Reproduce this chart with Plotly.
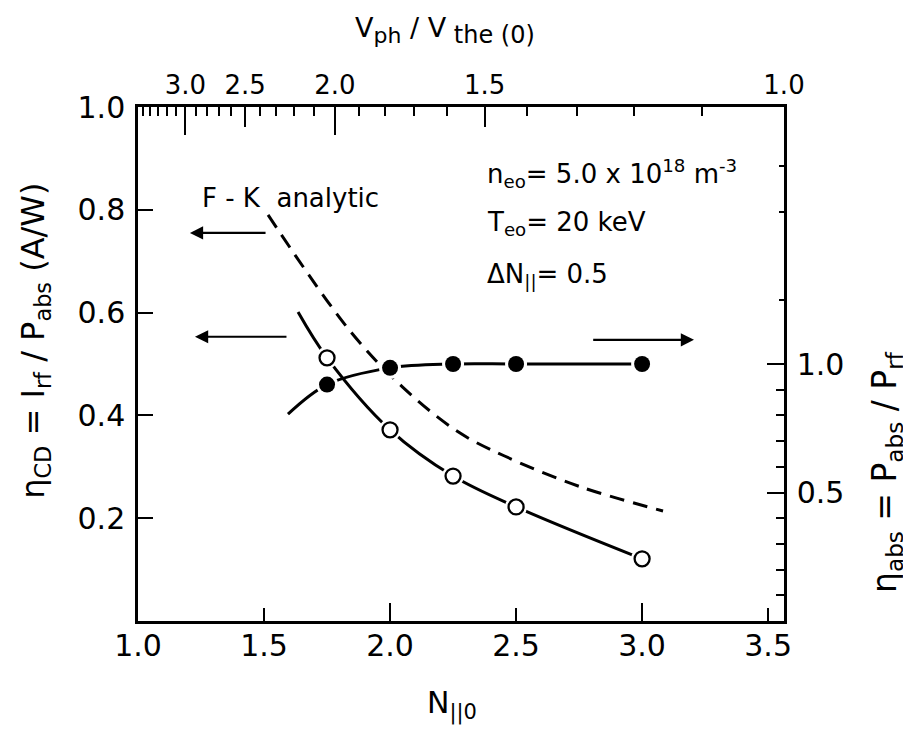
import plotly.graph_objects as go

# ---------------- data ----------------
# open circles: eta_CD (left axis)
cd_N = [1.75, 2.0, 2.25, 2.5, 3.0]
cd_eta = [0.512, 0.372, 0.282, 0.222, 0.121]
# solid curve through open circles
cd_curve_N = [1.635, 1.75, 2.0, 2.25, 2.5, 3.0]
cd_curve_eta = [0.601, 0.512, 0.372, 0.282, 0.222, 0.121]

# filled circles: eta_abs (right axis)
abs_N = [1.75, 2.0, 2.25, 2.5, 3.0]
abs_eta = [0.92, 0.985, 1.0, 1.0, 1.0]
abs_curve_N = [1.595, 1.75, 2.0, 2.25, 2.5, 3.0]
abs_curve_eta = [0.805, 0.92, 0.985, 1.0, 1.0, 1.0]

# F-K analytic (dashed, left axis)
fk_N = [1.516, 1.84, 2.05, 2.27, 2.45, 2.75, 3.083]
fk_eta = [0.790, 0.565, 0.455, 0.368, 0.322, 0.262, 0.214]

# axes
x_range = [1.0, 3.563]
c_over_vthe = 3.563            # V_ph/V_the(0) = c_over_vthe / N
bottom_long = [2.0, 3.0]
bottom_labels = [1.0, 1.5, 2.0, 2.5, 3.0, 3.5]
left_ticks = [0.2, 0.4, 0.6, 0.8, 1.0]
right_major = [0.5, 1.0]
right_minor = [0.1, 0.2, 0.3, 0.4, 0.6, 0.7, 0.8, 0.9]
right_marks = [1.25, 1.59, 1.77]
top_labels_v = [3.0, 2.5, 2.0, 1.5, 1.0]
top_long_v = [3.0, 2.0]
top_mid_v = [2.5, 1.5]
top_minor_v = [round(1.1 + 0.1 * i, 1) for i in range(25)]

FONT = "DejaVu Sans"
BLK = "black"

def fmt(v):
    return f"{v:.1f}"

fig = go.Figure()

# ---- lines ----
fig.add_trace(go.Scatter(x=fk_N, y=fk_eta, mode="lines",
                         line=dict(color=BLK, width=3, dash="15px,9px", shape="spline",
                                   smoothing=1.0),
                         xaxis="x", yaxis="y", showlegend=False))
fig.add_trace(go.Scatter(x=cd_curve_N, y=cd_curve_eta, mode="lines",
                         line=dict(color=BLK, width=3, shape="spline"),
                         xaxis="x", yaxis="y", showlegend=False))
fig.add_trace(go.Scatter(x=abs_curve_N, y=abs_curve_eta, mode="lines",
                         line=dict(color=BLK, width=3, shape="spline"),
                         xaxis="x", yaxis="y2", showlegend=False))

# ---- white halos (gaps around markers) ----
fig.add_trace(go.Scatter(x=cd_N, y=cd_eta, mode="markers",
                         marker=dict(color="white", size=22, line=dict(width=0)),
                         xaxis="x", yaxis="y", showlegend=False))
fig.add_trace(go.Scatter(x=abs_N, y=abs_eta, mode="markers",
                         marker=dict(color="white", size=22, line=dict(width=0)),
                         xaxis="x", yaxis="y2", showlegend=False))
# ---- markers ----
fig.add_trace(go.Scatter(x=cd_N, y=cd_eta, mode="markers",
                         marker=dict(color="white", size=15, line=dict(color=BLK, width=2.3)),
                         xaxis="x", yaxis="y", showlegend=False))
fig.add_trace(go.Scatter(x=abs_N, y=abs_eta, mode="markers",
                         marker=dict(color=BLK, size=16, line=dict(width=0)),
                         xaxis="x", yaxis="y2", showlegend=False))

# ---- axes ----
tickfont = dict(family=FONT, size=30, color=BLK)
noax = dict(showline=False, showgrid=False, zeroline=False, showticklabels=False)
fig.update_layout(
    width=911, height=729,
    margin=dict(l=130, r=135, t=99, b=116),
    paper_bgcolor="white", plot_bgcolor="white",
    font=dict(family=FONT, color=BLK),
    xaxis=dict(range=x_range, tickmode="array", tickvals=bottom_labels,
               ticktext=[fmt(v) for v in bottom_labels],
               ticks="inside", ticklen=13, tickwidth=2, tickcolor=BLK,
               showline=True, linewidth=2.5, linecolor=BLK,
               showgrid=False, zeroline=False, tickfont=tickfont,
               ticklabelstandoff=-4),
    xaxis5=dict(range=x_range, overlaying="x", side="bottom", anchor="y",
                tickmode="array", tickvals=bottom_long, ticks="inside", ticklen=18,
                tickwidth=2, tickcolor=BLK, **noax),
    yaxis=dict(range=[0, 1.0], tickmode="array", tickvals=left_ticks,
               ticktext=[fmt(v) for v in left_ticks],
               ticks="inside", ticklen=15, tickwidth=2, tickcolor=BLK,
               showline=True, linewidth=2.5, linecolor=BLK,
               showgrid=False, zeroline=False, tickfont=tickfont,
               ticklabelstandoff=4),
    yaxis2=dict(range=[0, 2.0], overlaying="y", side="right", anchor="x",
                tickmode="array", tickvals=right_major,
                ticktext=[fmt(v) for v in right_major],
                ticks="inside", ticklen=17, tickwidth=2, tickcolor=BLK,
                minor=dict(tickmode="array", tickvals=right_minor, ticks="inside",
                           ticklen=8, tickwidth=2, tickcolor=BLK),
                showline=True, linewidth=2.5, linecolor=BLK,
                showgrid=False, zeroline=False, tickfont=tickfont,
                ticklabelstandoff=4),
    yaxis3=dict(range=[0, 2.0], overlaying="y", side="right", anchor="x",
                tickmode="array", tickvals=right_marks, ticks="inside", ticklen=5,
                tickwidth=2, tickcolor=BLK, **noax),
    xaxis2=dict(range=x_range, overlaying="x", side="top", anchor="y",
                tickmode="array",
                tickvals=[c_over_vthe / v for v in top_labels_v],
                ticktext=[fmt(v) for v in top_labels_v],
                ticks="", tickcolor=BLK,
                minor=dict(tickmode="array",
                           tickvals=[c_over_vthe / v for v in top_minor_v],
                           ticks="inside", ticklen=9, tickwidth=2, tickcolor=BLK),
                showline=True, linewidth=2.5, linecolor=BLK,
                showgrid=False, zeroline=False,
                tickfont=dict(family=FONT, size=26, color=BLK),
                ticklabelstandoff=0),
    xaxis3=dict(range=x_range, overlaying="x", side="top", anchor="y",
                tickmode="array", tickvals=[c_over_vthe / v for v in top_long_v],
                ticks="inside", ticklen=28, tickwidth=2, tickcolor=BLK, **noax),
    xaxis4=dict(range=x_range, overlaying="x", side="top", anchor="y",
                tickmode="array", tickvals=[c_over_vthe / v for v in top_mid_v],
                ticks="inside", ticklen=20, tickwidth=2, tickcolor=BLK, **noax),
)
# dummy traces to activate the extra axes
for ax, ay in [("x2", "y"), ("x3", "y"), ("x4", "y"), ("x5", "y"), ("x", "y3")]:
    fig.add_trace(go.Scatter(x=[None], y=[None], xaxis=ax, yaxis=ay,
                             showlegend=False, hoverinfo="skip"))

# ---- axis titles ----
ann = []
ann.append(dict(text="N<sub>||0</sub>", xref="paper", yref="paper", x=0.486, y=0,
                yshift=-84, xanchor="center", yanchor="middle", showarrow=False,
                font=dict(family=FONT, size=30, color=BLK)))
ann.append(dict(text="V<sub><span style='font-size:22px'>ph</span></sub> / "
                     "V<sub><span style='font-size:24px'> the (0)</span></sub>",
                xref="paper", yref="paper",
                x=0.475, y=1, yshift=77, xanchor="center", yanchor="middle",
                showarrow=False, font=dict(family=FONT, size=27, color=BLK)))
ann.append(dict(text="η<sub>CD</sub> = I<sub>rf</sub> / P<sub>abs</sub> (A/W)",
                xref="paper", yref="paper", x=0, xshift=-103, y=0.545,
                xanchor="center", yanchor="middle",
                textangle=-90, showarrow=False, font=dict(family=FONT, size=32, color=BLK)))
ann.append(dict(text="η<sub>abs</sub> = P<sub>abs</sub> / P<sub>rf</sub>",
                xref="paper", yref="paper", x=1, xshift=103, y=0.29,
                xanchor="center", yanchor="middle",
                textangle=-90, showarrow=False, font=dict(family=FONT, size=33, color=BLK)))

# ---- in-plot labels ----
ann.append(dict(text="F - K  analytic", x=1.607, y=0.823, xref="x", yref="y",
                showarrow=False, font=dict(family=FONT, size=26, color=BLK)))
params = [("n<sub>eo</sub>= 5.0 x 10<sup>18</sup> m<sup>-3</sup>", 0.870),
          ("T<sub>eo</sub>= 20 keV", 0.774),
          ("ΔN<sub>||</sub>= 0.5", 0.673)]
for txt, yy in params:
    ann.append(dict(text=txt, x=2.377, y=yy, xref="x", yref="y", xanchor="left",
                    showarrow=False, font=dict(family=FONT, size=26, color=BLK)))

# ---- arrows (tail -> head) ----
arrows = [((1.512, 0.755), (1.206, 0.755)),
          ((1.595, 0.553), (1.226, 0.553)),
          ((2.800, 0.547), (3.206, 0.547))]
for (tx, ty), (hx, hy) in arrows:
    ann.append(dict(x=hx, y=hy, ax=tx, ay=ty, xref="x", yref="y", axref="x", ayref="y",
                    text="", showarrow=True, arrowhead=2, arrowsize=1.2, arrowwidth=2.2,
                    arrowcolor=BLK))

fig.update_layout(annotations=ann)
fig.write_html("out.html")
